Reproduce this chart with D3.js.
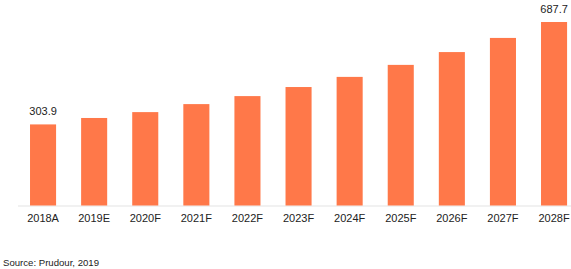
<!DOCTYPE html>
<html>
<head>
<meta charset="utf-8">
<script src="https://cdn.jsdelivr.net/npm/d3@7"></script>
<style>
  body { margin: 0; background: #fff; }
  text { font-family: "Liberation Sans", Arial, sans-serif; fill: #222; }
</style>
</head>
<body>
<div class="grafico"></div>
<script>
var anos = ["2018A", "2019E", "2020F", "2021F", "2022F", "2023F", "2024F", "2025F", "2026F", "2027F", "2028F"];
var valores = [303.9, 328, 350, 380, 410, 444, 482, 527, 575, 628, 687.7];
var rotulos = ["303.9", "", "", "", "", "", "", "", "", "", "687.7"];

var width = 571;
var height = 269;
var base = 205.5;

var svg = d3.select(".grafico")
  .append("svg")
    .attr("width", width)
    .attr("height", height);

// escala x
var x = d3.scaleBand()
  .domain(anos)
  .range([17.5, 579.6])
  .paddingInner(0.49)
  .paddingOuter(0.245);

// escala y
var y = d3.scaleLinear()
  .domain([0, 687.7])
  .range([base, 22]);

// linha do eixo
svg.append("line")
  .attr("x1", 18).attr("x2", width)
  .attr("y1", base + 0.5).attr("y2", base + 0.5)
  .attr("stroke", "#e3e3e3");

svg.selectAll("rect.barra")
  .data(valores)
  .enter()
  .append("rect")
    .attr("class", "barra")
    .attr("x", function(d, i){ return x(anos[i]); })
    .attr("width", x.bandwidth())
    .attr("y", function(d){ return y(d); })
    .attr("height", function(d){ return base - y(d); })
    .attr("fill", "#ff7849");

var eixo = d3.axisBottom(x).tickSize(0).tickPadding(9);
var g = svg.append("g")
  .attr("transform", "translate(0," + base + ")")
  .call(eixo);
g.select(".domain").remove();
g.selectAll("text").style("font-size", "11px").attr("fill", "#222");

svg.selectAll("text.rotulo")
  .data(valores)
  .enter()
  .append("text")
    .attr("class", "rotulo")
    .attr("x", function(d, i){ return x(anos[i]) + x.bandwidth() / 2; })
    .attr("y", function(d){ return y(d) - 9; })
    .attr("text-anchor", "middle")
    .style("font-size", "11px")
    .text(function(d, i){ return rotulos[i]; });

svg.append("text")
  .attr("x", 3)
  .attr("y", 266)
  .style("font-size", "9.6px")
  .text("Source: Prudour, 2019");
</script>
</body>
</html>
